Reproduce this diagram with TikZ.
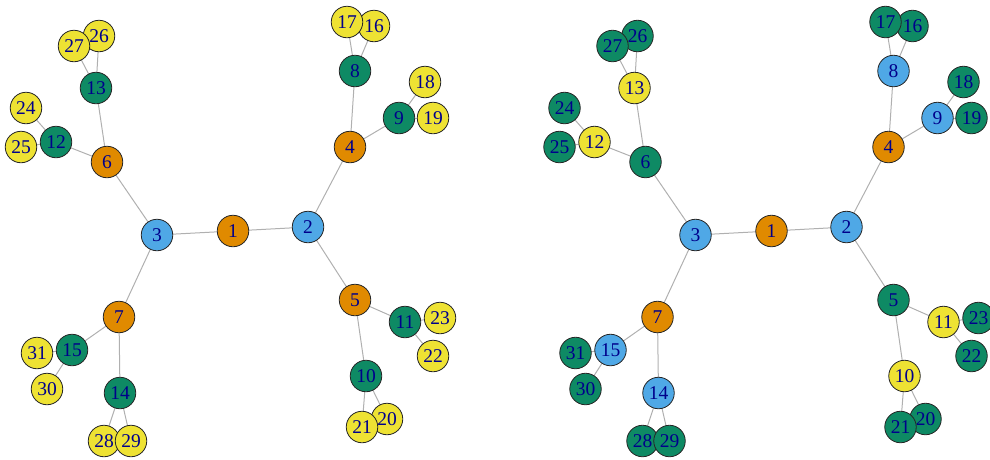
\documentclass[tikz,border=0pt]{standalone}
\usepackage{fontspec}
\setmainfont{Liberation Serif}
\usetikzlibrary{backgrounds}
\definecolor{cor}{HTML}{E08A00}
\definecolor{cbl}{HTML}{4FA8E6}
\definecolor{cgr}{HTML}{0E8A64}
\definecolor{cye}{HTML}{EEE233}
\definecolor{lbl}{HTML}{00008B}
\definecolor{edg}{HTML}{B0B0B0}
\begin{document}
\begin{tikzpicture}[x=1pt,y=-1pt,
  vtx/.style={circle,draw=black!85,line width=0.8pt,minimum size=31.5pt,inner sep=0pt,
    text=lbl,font=\fontsize{19.5}{19.5}\selectfont},
  edge/.style={draw=edg,line width=1pt}]
\useasboundingbox (0,0) rectangle (990,459);
\foreach \i/\x/\y/\cl/\cr in {
 1/233/231/cor/cor, 2/308/227/cbl/cbl, 3/157/235/cbl/cbl, 4/350/147/cor/cor,
 5/355/300/cor/cgr, 6/107/162/cor/cgr, 7/119/317/cor/cor, 8/355/71/cgr/cbl,
 9/399/118/cgr/cbl, 10/366/376/cgr/cye, 11/405/322/cgr/cye, 12/56/142/cgr/cye,
 13/96/88/cgr/cye, 14/120/393/cgr/cbl, 15/72/350/cgr/cbl, 16/374/26/cye/cgr,
 17/347/22/cye/cgr, 18/425/82/cye/cgr, 19/433/118/cye/cgr, 20/387/419/cye/cgr,
 21/362/427/cye/cgr, 22/433/356/cye/cgr, 23/440/318/cye/cgr, 24/26/108/cye/cgr,
 25/21/147/cye/cgr, 26/99/36/cye/cgr, 27/74/46/cye/cgr, 28/104/441/cye/cgr,
 29/131/441/cye/cgr, 30/47/389/cye/cgr, 31/37/353/cye/cgr}{
  \node[vtx,fill=\cl] (L\i) at (\x,\y) {\i};
  \node[vtx,fill=\cr] (R\i) at (\x+538.5,\y) {\i};
}
\begin{pgfonlayer}{background}
\foreach \a/\b in {1/2,1/3,2/4,2/5,3/6,3/7,4/8,4/9,5/10,5/11,6/12,6/13,7/14,7/15,
  8/16,8/17,9/18,9/19,10/20,10/21,11/22,11/23,12/24,12/25,13/26,13/27,14/28,14/29,15/30,15/31}{
  \draw[edge] (L\a.center) -- (L\b.center);
  \draw[edge] (R\a.center) -- (R\b.center);
}
\end{pgfonlayer}
\end{tikzpicture}
\end{document}
